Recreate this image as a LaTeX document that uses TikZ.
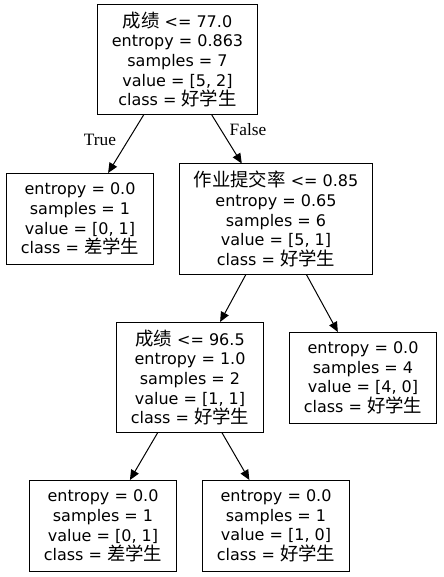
\documentclass[tikz,border=0pt]{standalone}
\usepackage{fontspec}
\setmainfont{DejaVu Sans}
\newfontfamily\cjk{Noto Sans CJK SC}[Scale=1.15]
\newfontfamily\tffont{Liberation Serif}
\usetikzlibrary{arrows.meta}
\newcommand{\zh}[1]{{\cjk #1}}

\begin{document}
\begin{tikzpicture}[x=0.75pt,y=-0.75pt,>={Triangle[length=7.5pt,width=6.5pt]},
  leaf/.style={draw,line width=0.75pt,align=center,font=\fontsize{12}{14.7}\selectfont,inner xsep=10.5pt,minimum height=68.25pt},
  split/.style={leaf,minimum height=82.5pt},
  edge/.style={->,line width=0.75pt},
  tf/.style={font=\tffont\fontsize{13}{15}\selectfont,inner sep=0pt}]
  \useasboundingbox (0,0) rectangle (443,577);
  \node[split] (root) at (177.5,59.5) {\zh{成绩} <= 77.0\\entropy = 0.863\\samples = 7\\value = [5, 2]\\class = \zh{好学生}};
  \node[leaf] (leafL) at (80,219) {entropy = 0.0\\samples = 1\\value = [0, 1]\\class = \zh{差学生}};
  \node[split] (rate) at (276,219) {\zh{作业提交率} <= 0.85\\entropy = 0.65\\samples = 6\\value = [5, 1]\\class = \zh{好学生}};
  \node[split] (score) at (190,377.5) {\zh{成绩} <= 96.5\\entropy = 1.0\\samples = 2\\value = [1, 1]\\class = \zh{好学生}};
  \node[leaf] (leafR) at (363,378) {entropy = 0.0\\samples = 4\\value = [4, 0]\\class = \zh{好学生}};
  \node[leaf] (leafBL) at (103,526) {entropy = 0.0\\samples = 1\\value = [0, 1]\\class = \zh{差学生}};
  \node[leaf] (leafBR) at (276,526) {entropy = 0.0\\samples = 1\\value = [1, 0]\\class = \zh{好学生}};
  \foreach \a/\b in {root/leafL,root/rate,rate/score,rate/leafR,score/leafBL,score/leafBR}
    \draw[edge] (\a) -- (\b);
  \node[tf] (lblT) at (100,140) {True};
  \node[tf] (lblF) at (248,130) {False};
\end{tikzpicture}
\end{document}
